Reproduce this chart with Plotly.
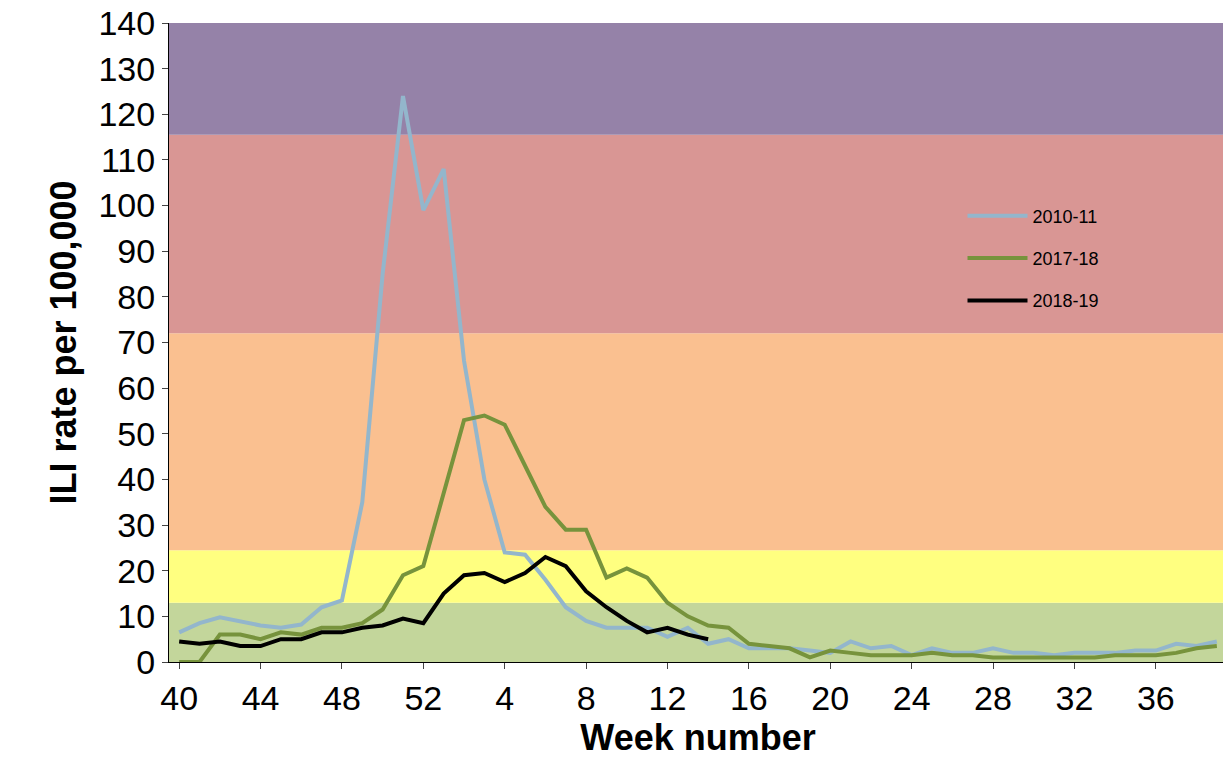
import plotly.graph_objects as go

weeks = [str(w) for w in list(range(40, 53)) + list(range(1, 40))]
s2010 = [6.5,8.5,9.8,9,8,7.5,8.2,12,13.5,35,85,124,99,108,66,40,24,23.5,18,12,9,7.5,7.5,7.5,5.5,7.5,4,5,3,3,3,2.5,2,4.5,3,3.5,1.5,3,2,2,3,2,2,1.5,2,2,2,2.5,2.5,4,3.5,4.5]
s2017 = [0,0,6,6,5,6.5,6,7.5,7.5,8.5,11.5,19,21,37,53,54,52,43,34,29,29,18.5,20.5,18.5,13,10,8,7.5,4,3.5,3,1,2.5,2,1.5,1.5,1.5,2,1.5,1.5,1,1,1,1,1,1,1.5,1.5,1.5,2,3,3.5]
s2018 = [4.5,4,4.5,3.5,3.5,5,5,6.5,6.5,7.5,8,9.5,8.5,15,19,19.5,17.5,19.5,23,21,15.5,12,9,6.5,7.5,6,5]
bands = [(0,13,"#c3d69b"),(13,24.5,"#ffff80"),(24.5,72,"#fac090"),(72,115.5,"#d99694"),(115.5,140,"#9582a8")]
ticks = [str(w) for w in [40,44,48,52,4,8,12,16,20,24,28,32,36]]
yticks = list(range(0, 141, 10))

fig = go.Figure()
for y0,y1,c in bands:
    fig.add_shape(type="rect", xref="paper", yref="y", x0=0, x1=1, y0=y0, y1=y1,
                  fillcolor=c, line_width=0, layer="below")
fig.add_trace(go.Scatter(x=weeks, y=s2010, name="2010-11", legendgroup="a", mode="lines", line=dict(color="#93b6cc", width=4)))
fig.add_trace(go.Scatter(x=weeks, y=s2017, name="2017-18", legendgroup="b", mode="lines", line=dict(color="#77933c", width=4)))
fig.add_trace(go.Scatter(x=weeks[:len(s2018)], y=s2018, name="2018-19", legendgroup="c", mode="lines", line=dict(color="#000000", width=4)))
fig.update_layout(width=1231, height=779, plot_bgcolor="white", paper_bgcolor="white",
    margin=dict(l=161, r=12, t=15, b=125, autoexpand=False),
    font=dict(family="Liberation Sans, Arial", color="black"),
    legend=dict(x=0.75, y=0.727, xanchor="left", yanchor="top", bgcolor="rgba(0,0,0,0)",
                font=dict(size=18), tracegroupgap=16, itemwidth=60),
    xaxis=dict(type="category", categoryorder="array", categoryarray=weeks, tickvals=ticks, ticktext=ticks,
               range=[-0.5, 51.5], tickfont=dict(size=34), ticks="outside", ticklen=6, automargin=False,
               showline=True, linecolor="black", showgrid=False,
               title=dict(text="<b>Week number</b>", font=dict(size=36), standoff=8)),
    yaxis=dict(range=[0,140], tickvals=yticks, tickfont=dict(size=34), showgrid=False, ticks="outside", ticklen=6,
               showline=True, linecolor="black", zeroline=False, automargin=False, ticklabeloverflow="allow",
               title=dict(text="<b>ILI rate per 100,000</b>", font=dict(size=36), standoff=10)))
fig.write_html("out.html")
